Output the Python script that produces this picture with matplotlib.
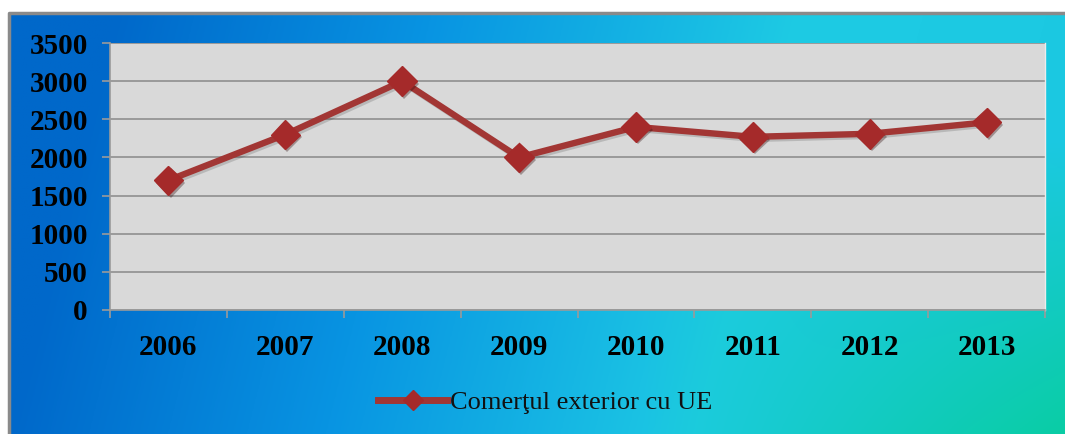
import numpy as np
import matplotlib
matplotlib.use("Agg")
import matplotlib.pyplot as plt
import matplotlib.patheffects as pe
from matplotlib.lines import Line2D
from matplotlib.font_manager import FontProperties

years = ["2006", "2007", "2008", "2009", "2010", "2011", "2012", "2013"]
trade_eu = [1700, 2300, 3000, 2000, 2400, 2270, 2310, 2460]
y_ticks = [0, 500, 1000, 1500, 2000, 2500, 3000, 3500]
series_name = "Comerţul exterior cu UE"

W, H, DPI = 1065, 434, 100
fig = plt.figure(figsize=(W / DPI, H / DPI), dpi=DPI)
fig.patch.set_facecolor("white")

# ---- gradient background panel ----
fx0, fy0 = 9, 13  # frame top-left corner in pixels
bg = fig.add_axes([fx0 / W, 0, 1 - fx0 / W, 1 - fy0 / H])
bg.set_axis_off()
nx, ny = 400, 160
u = np.linspace(0, 1, nx)[None, :]
v = np.linspace(0, 1, ny)[:, None]
t = np.clip(u - 0.1 * (1 - v), 0, 1)
stops_u = [0.0, 0.3, 0.65, 1.0]
stops_c = np.array([[0, 104, 202], [8, 148, 226], [30, 203, 228], [27, 200, 225]]) / 255
base = np.stack([np.interp(t, stops_u, stops_c[:, k]) for k in range(3)], axis=-1)
green = np.array([10, 205, 165]) / 255
w = (np.clip((u - 0.6) / 0.4, 0, 1) * np.clip((v - 0.3) / 0.7, 0, 1))[..., None]
img = base * (1 - w) + green * w
bg.imshow(img, aspect="auto", extent=[0, 1, 0, 1], origin="upper")
bg.set_xlim(0, 1)
bg.set_ylim(0, 1)
# grey border on top and left of the panel
bg.plot([0, 0, 1], [0, 1, 1], color="#8a8a8a", lw=2.5, transform=bg.transAxes, clip_on=False)

# ---- main plot ----
L, R, T, B = 110, 1045, 43, 310
ax = fig.add_axes([L / W, 1 - B / H, (R - L) / W, (B - T) / H])
ax.set_facecolor("#d9d9d9")

x = np.arange(len(years))
line_color = "#a23634"
ax.plot(x, trade_eu, color=line_color, lw=4.6, solid_capstyle="round", zorder=3,
        path_effects=[pe.SimpleLineShadow(offset=(1.5, -1.5), alpha=0.15), pe.Normal()])
ax.plot(x, trade_eu, ls="none", marker="D", ms=15, mfc="#a52a2a", mec="#a52a2a", zorder=4,
        path_effects=[pe.SimplePatchShadow(offset=(1.5, -2), alpha=0.35), pe.Normal()])

ax.set_xlim(-0.5, len(years) - 0.5)
ax.set_ylim(0, 3500)
ax.set_yticks(y_ticks)
ax.set_xticks(x)
ax.set_xticklabels(years)
ax.set_xticks(np.arange(-0.5, len(years)), minor=True)
ax.grid(axis="y", color="#9a9a9a", lw=1.4, zorder=1)
ax.set_axisbelow(True)

ax.spines["top"].set_visible(False)
ax.spines["right"].set_color("#ececec")
ax.spines["right"].set_linewidth(1.0)
ax.spines["left"].set_color("#9a9a9a")
ax.spines["bottom"].set_color("#9a9a9a")
ax.spines["left"].set_linewidth(1.2)
ax.spines["bottom"].set_linewidth(1.2)

tick_font = FontProperties(family="Liberation Serif", weight="bold", size=21)
ax.tick_params(axis="y", length=6, width=1.2, color="#9a9a9a", pad=10)
ax.tick_params(axis="x", which="major", length=0, pad=17)
ax.tick_params(axis="x", which="minor", length=6, width=1.2, color="#9a9a9a")
for lab in ax.get_yticklabels() + ax.get_xticklabels():
    lab.set_fontproperties(tick_font)

handle = Line2D([], [], color=line_color, lw=5, marker="D", ms=10, mfc="#a52a2a", mec="#a52a2a")
leg = fig.legend([handle], [series_name], loc="center", bbox_to_anchor=(545 / W, 1 - 402 / H),
                 frameon=False, handlelength=2.6, handletextpad=0.1,
                 prop=dict(family="Liberation Serif", size=19))
for txt in leg.get_texts():
    txt.set_color("#111111")

fig.savefig("out.png", dpi=DPI)
